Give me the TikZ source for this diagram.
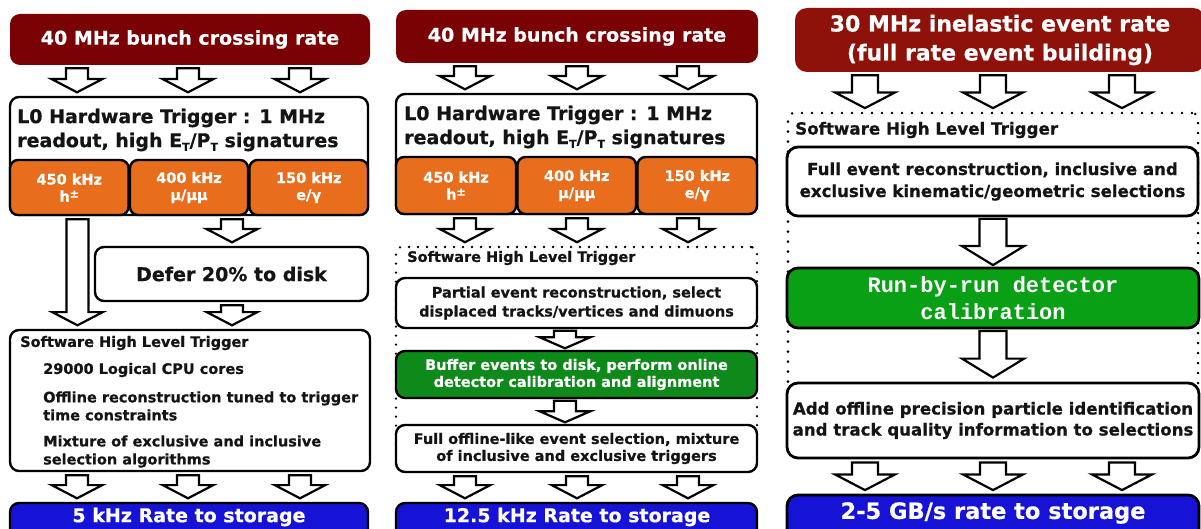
\documentclass[tikz,border=0pt]{standalone}
\usepackage{fontspec}
\setmainfont{DejaVu Sans}[BoldFeatures={FakeBold=0.6}]
\newfontfamily\monobold{Liberation Mono}
\usetikzlibrary{calc}

\definecolor{rateRed}{RGB}{122,2,4}
\definecolor{rateRedB}{RGB}{142,18,10}
\definecolor{lzeroOrange}{RGB}{232,110,30}
\definecolor{calibGreen}{RGB}{14,138,26}
\definecolor{calibGreenB}{RGB}{10,160,22}
\definecolor{storeBlue}{RGB}{22,18,214}
\definecolor{inkText}{RGB}{20,20,20}

\newcommand\fs[2]{\fontsize{#1}{#2}\selectfont}
\newcommand\subT{\raisebox{-0.35ex}{\fontsize{11}{11}\selectfont T}}
\newcommand\hpm{h\raisebox{0.5ex}{\fontsize{11}{11}\selectfont ±}}

% box from corner (x1,y1) to (x2,y2): name, x1, y1, x2, y2, style, text
\newcommand\boxnode[7]{%
  \node[#6, minimum width={(#4)-(#2)}, minimum height={(#5)-(#3)}]
    (#1) at ({((#2)+(#4))/2},{((#3)+(#5))/2}) {#7};}

% hollow block arrow: half shaft width #1, head length #2, at x=#3,
% from node #4 down to node #5, with gaps #6 (top) and #7 (bottom)
\newcommand\fatarrowx[7]{%
  \draw[fat] let \p1=(#4.south), \p2=(#5.north) in
    (#3pt-#1pt,\y1-#6pt) -- (#3pt+#1pt,\y1-#6pt)
    -- (#3pt+#1pt,\y2+#7pt+#2pt) -- (#3pt+2.3*#1pt,\y2+#7pt+#2pt)
    -- (#3pt,\y2+#7pt)
    -- (#3pt-2.3*#1pt,\y2+#7pt+#2pt) -- (#3pt-#1pt,\y2+#7pt+#2pt) -- cycle;}
\newcommand\fatarrow[4][11]{\fatarrowx{#1}{1.2*#1}{#2}{#3}{#4}{3}{3.5}}

\tikzset{
  box/.style={draw=black, line width=2.4pt, rounded corners=9pt, inner sep=0pt,
    fill=white, text=inkText, align=center},
  boxB/.style={box, line width=2.8pt, rounded corners=11pt},
  ratebox/.style={fill=rateRed, rounded corners=10pt, inner sep=0pt, text=white, align=center},
  orangebox/.style={box, fill=lzeroOrange, text=white, rounded corners=8pt},
  greenbox/.style={box, fill=calibGreen, text=white},
  bluebox/.style={box, fill=storeBlue, text=white},
  dotbox/.style={draw=black, line width=2.6pt, dash pattern=on 0pt off 9pt,
    line cap=round, rounded corners=6pt, inner sep=0pt},
  fat/.style={draw=black, line width=2.2pt, fill=white, line join=miter},
  txt/.style={inner sep=0pt, text=inkText, align=left},
}

\begin{document}
\begin{tikzpicture}[x=1pt, y=-1pt, font=\bfseries]
\useasboundingbox (0,0) rectangle (1201,529);
\clip (0,0) rectangle (1201,529);
\fill[white] (0,0) rectangle (1201,529);

% ---------------- Run 2 trigger ----------------
\boxnode{ra}{10}{14}{370}{65}{ratebox, font=\bfseries\fs{19}{23}}{40 MHz bunch crossing rate}
\boxnode{la}{10}{97}{368}{215}{box}{}
\node[txt, anchor=west, font=\bfseries\fs{19}{24}] (latext) at (17,130)
  {L0 Hardware Trigger : 1 MHz\\readout, high E\subT/P\subT{} signatures};
\boxnode{oa1}{10}{160}{128.5}{215}{orangebox, font=\bfseries\fs{14.5}{17}}{450 kHz\\\hpm}
\boxnode{oa2}{130}{160}{248}{215}{orangebox, font=\bfseries\fs{14.5}{17}}{400 kHz\\μ/μμ}
\boxnode{oa3}{249.5}{160}{368}{215}{orangebox, font=\bfseries\fs{14.5}{17}}{150 kHz\\e/γ}
\boxnode{da}{95}{247}{368}{301}{box, font=\bfseries\fs{19}{23}}{Defer 20\% to disk}
\boxnode{ha}{10}{330}{370}{471}{box}{}
\node[txt, anchor=west, font=\bfseries\fs{14.5}{18}] (hatitle) at (20,343) {Software High Level Trigger};
\node[txt, anchor=west, font=\bfseries\fs{14.5}{18}] (haitem1) at (43,370) {29000 Logical CPU cores};
\node[txt, anchor=west, font=\bfseries\fs{14.5}{18}] (haitem2) at (43,406)
  {Offline reconstruction tuned to trigger\\time constraints};
\node[txt, anchor=west, font=\bfseries\fs{14.5}{18}] (haitem3) at (43,451.5)
  {Mixture of exclusive and inclusive\\selection algorithms};
\boxnode{ba}{10}{503}{368}{545}{bluebox}{}
\node[text=white, inner sep=0pt, font=\bfseries\fs{19}{23}] (batext) at (189,517) {5 kHz Rate to storage};

\fatarrow{77}{ra}{la}
\fatarrow{188}{ra}{la}
\fatarrow{300}{ra}{la}
\fatarrow{77.5}{oa1}{ha}
\fatarrow{232}{la}{da}
\fatarrow{232}{da}{ha}
\fatarrow{77}{ha}{ba}
\fatarrow{188}{ha}{ba}
\fatarrow{300}{ha}{ba}

% ---------------- Run 3 trigger ----------------
\boxnode{rb}{396}{10}{758}{63}{ratebox, font=\bfseries\fs{19}{23}}{40 MHz bunch crossing rate}
\boxnode{lb}{396}{94}{757}{214}{box}{}
\node[txt, anchor=west, font=\bfseries\fs{19}{24}] (lbtext) at (404,127)
  {L0 Hardware Trigger : 1 MHz\\readout, high E\subT/P\subT{} signatures};
\boxnode{ob1}{396}{157}{516}{214}{orangebox, font=\bfseries\fs{14.5}{17}}{450 kHz\\\hpm}
\boxnode{ob2}{517.5}{157}{636}{214}{orangebox, font=\bfseries\fs{14.5}{17}}{400 kHz\\μ/μμ}
\boxnode{ob3}{637.5}{157}{757}{214}{orangebox, font=\bfseries\fs{14.5}{17}}{150 kHz\\e/γ}
\boxnode{hb}{396}{247}{757}{450}{dotbox}{}
\node[txt, anchor=west, font=\bfseries\fs{14.5}{18}] (hbtitle) at (407,258) {Software High Level Trigger};
\boxnode{pb1}{396}{278}{757}{328}{box, font=\bfseries\fs{14.5}{19}}
  {Partial event reconstruction, select\\displaced tracks/vertices and dimuons}
\boxnode{pb2}{396}{351}{757}{398}{greenbox, font=\bfseries\fs{14.5}{17}}
  {Buffer events to disk, perform online\\detector calibration and alignment}
\boxnode{pb3}{396}{425}{757}{472}{box, font=\bfseries\fs{14.5}{17}}
  {Full offline-like event selection, mixture\\of inclusive and exclusive triggers}
\boxnode{bb}{396}{503}{757}{545}{bluebox}{}
\node[text=white, inner sep=0pt, font=\bfseries\fs{19}{23}] (bbtext) at (577,517) {12.5 kHz Rate to storage};

\fatarrow{465}{rb}{lb}
\fatarrow{577}{rb}{lb}
\fatarrow{688}{rb}{lb}
\fatarrow{465}{ob1}{hb}
\fatarrow{577}{ob2}{hb}
\fatarrow{688}{ob3}{hb}
\fatarrowx{11}{11}{565}{pb1}{pb2}{1.5}{1.5}
\fatarrowx{11}{11}{565}{pb2}{pb3}{1.5}{1.5}
\fatarrow{465}{pb3}{bb}
\fatarrow{577}{pb3}{bb}
\fatarrow{688}{pb3}{bb}

% ---------------- Upgrade trigger ----------------
\boxnode{rc}{795}{8}{1205}{72}{ratebox, fill=rateRedB, rounded corners=12pt, font=\bfseries\fs{22}{29}}
  {30 MHz inelastic event rate\\(full rate event building)}
\boxnode{hc}{788}{113}{1198}{420}{dotbox, dash pattern=on 0pt off 10pt, line width=2.8pt}{}
\node[txt, anchor=west, font=\bfseries\fs{16.7}{20}] (hctitle) at (795,130) {Software High Level Trigger};
\boxnode{pc1}{787}{147}{1198}{216}{boxB, font=\bfseries\fs{16.6}{22}}
  {Full event reconstruction, inclusive and\\exclusive kinematic/geometric selections}
\boxnode{pc2}{787}{268}{1199}{328}{boxB, fill=calibGreenB, text=white, font=\monobold\bfseries\fs{22}{27}}
  {Run-by-run detector\\calibration}
\boxnode{pc3}{787}{383}{1199}{458}{boxB, font=\bfseries\fs{16.6}{21}}
  {Add offline precision particle identification\\and track quality information to selections}
\boxnode{bc}{787}{495}{1199}{545}{boxB, fill=storeBlue}{}
\node[text=white, inner sep=0pt, font=\bfseries\fs{22.5}{26}] (bctext) at (993,513) {2-5 GB/s rate to storage};

\fatarrow[13]{865}{rc}{hc}
\fatarrow[13]{993}{rc}{hc}
\fatarrow[13]{1122}{rc}{hc}
\fatarrowx{13.5}{19}{993}{pc1}{pc2}{1.5}{1.5}
\fatarrowx{13.5}{19}{993}{pc2}{pc3}{1.5}{4}
\fatarrow[13]{865}{pc3}{bc}
\fatarrow[13]{993}{pc3}{bc}
\fatarrow[13]{1122}{pc3}{bc}
\end{tikzpicture}
\end{document}
